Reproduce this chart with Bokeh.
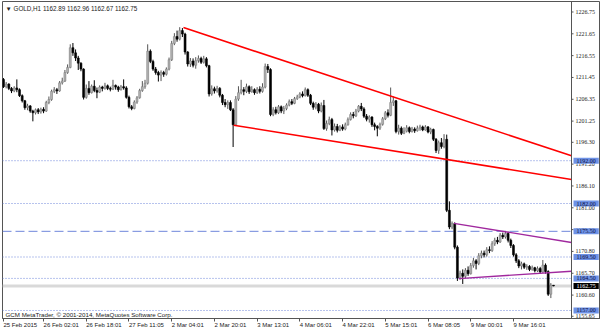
from bokeh.plotting import figure
from bokeh.models import Range1d, FixedTicker, Span, Label, ColumnDataSource
from bokeh.embed import file_html
from bokeh.resources import INLINE

symbol = "GOLD,H1"
first_open = 1211.0
closes = [
    1209.3, 1209.9, 1208.9, 1208.3, 1209.0, 1208.6, 1207.2, 1206.0, 1204.4, 1204.8,
    1203.6, 1203.2, 1203.9, 1203.4, 1204.0, 1203.6, 1205.6, 1206.3, 1208.2, 1208.6,
    1208.3, 1210.2, 1210.6, 1212.6, 1213.8, 1218.4, 1217.2, 1216.0, 1214.8, 1213.4,
    1206.8, 1208.9, 1207.9, 1209.4, 1208.4, 1208.0, 1209.2, 1208.9, 1209.5, 1208.9,
    1208.7, 1209.6, 1209.2, 1208.6, 1209.3, 1209.0, 1206.8, 1204.6, 1204.2, 1205.7,
    1206.7, 1208.4, 1209.3, 1210.1, 1217.6, 1215.2, 1213.4, 1212.6, 1212.0, 1212.6,
    1212.2, 1213.4, 1215.6, 1219.4, 1221.0, 1220.4, 1222.4, 1221.6, 1217.4, 1214.6,
    1215.3, 1214.3, 1215.4, 1215.9, 1215.0, 1215.8, 1214.2, 1207.6, 1208.8, 1208.3,
    1208.9, 1207.3, 1205.6, 1205.1, 1205.6, 1203.9, 1200.4, 1206.4, 1207.9, 1208.6,
    1208.2, 1209.3, 1208.1, 1208.6, 1207.9, 1208.7, 1208.2, 1209.2, 1214.0, 1213.3,
    1202.8, 1203.9, 1203.2, 1204.6, 1203.6, 1204.2, 1205.0, 1205.8, 1205.4, 1206.5,
    1206.9, 1207.6, 1207.2, 1208.6, 1207.3, 1205.4, 1204.5, 1205.2, 1203.6, 1204.9,
    1199.5, 1200.7, 1201.6, 1199.2, 1200.0, 1199.1, 1199.9, 1199.4, 1200.4, 1201.6,
    1202.8, 1202.5, 1203.6, 1204.7, 1204.1, 1202.4, 1201.7, 1202.2, 1200.4, 1200.0,
    1199.6, 1200.5, 1201.8, 1203.2, 1202.6, 1205.6, 1206.0, 1198.8, 1199.6, 1198.4,
    1198.9, 1199.7, 1198.8, 1199.4, 1199.0, 1199.6, 1199.9, 1199.2, 1199.9, 1198.7,
    1199.3, 1197.0, 1194.4, 1196.2, 1195.3, 1197.0, 1180.4, 1176.5, 1177.3, 1171.8,
    1164.6, 1165.7, 1165.0, 1166.4, 1165.6, 1167.5, 1168.6, 1168.0, 1169.8, 1170.4,
    1170.0, 1171.2, 1171.0, 1172.6, 1173.4, 1173.0, 1174.6, 1174.2, 1175.0, 1173.4,
    1172.2, 1170.0, 1168.6, 1167.4, 1167.9, 1167.1, 1167.3, 1166.6, 1167.0, 1166.3,
    1166.8, 1166.0, 1167.6, 1166.1, 1160.8, 1162.89, 1162.75,
]
highs = [
    1211.3, 1210.4, 1210.1, 1209.2, 1209.4, 1211.0, 1208.9, 1207.5, 1206.2, 1205.3,
    1205.0, 1203.9, 1204.2, 1204.3, 1204.4, 1204.5, 1206.0, 1207.0, 1208.6, 1209.2,
    1209.0, 1210.6, 1211.4, 1213.2, 1214.5, 1219.2, 1219.5, 1218.0, 1216.5, 1215.0,
    1213.6, 1209.8, 1210.6, 1209.8, 1210.8, 1209.1, 1209.6, 1209.5, 1210.2, 1209.8,
    1209.3, 1210.9, 1209.8, 1209.5, 1209.7, 1211.0, 1209.4, 1207.2, 1205.0, 1206.1,
    1207.1, 1208.8, 1210.6, 1210.9, 1219.2, 1218.0, 1215.6, 1213.9, 1213.0, 1213.1,
    1213.0, 1213.8, 1216.1, 1220.0, 1221.8, 1222.4, 1223.2, 1223.0, 1221.9, 1217.6,
    1216.0, 1215.9, 1216.2, 1216.6, 1216.3, 1216.5, 1216.2, 1214.4, 1209.6, 1209.3,
    1209.5, 1209.2, 1207.6, 1206.4, 1206.1, 1206.1, 1204.3, 1207.1, 1209.4, 1210.9,
    1209.2, 1210.0, 1209.6, 1209.4, 1208.9, 1209.2, 1209.4, 1210.1, 1214.7, 1214.6,
    1213.6, 1204.5, 1204.6, 1205.0, 1204.9, 1204.8, 1205.4, 1206.3, 1206.4, 1206.9,
    1207.4, 1208.0, 1208.2, 1209.1, 1208.9, 1207.6, 1205.8, 1205.7, 1205.5, 1205.6,
    1206.2, 1201.4, 1202.3, 1202.0, 1200.7, 1200.6, 1200.3, 1200.5, 1200.9, 1202.1,
    1203.3, 1203.4, 1204.1, 1205.0, 1205.5, 1204.5, 1202.9, 1202.6, 1202.4, 1200.9,
    1200.3, 1200.9, 1202.2, 1203.6, 1204.0, 1209.1, 1207.0, 1206.2, 1200.4, 1200.0,
    1199.8, 1200.3, 1200.0, 1199.9, 1199.8, 1200.2, 1200.4, 1200.2, 1200.3, 1200.1,
    1199.7, 1199.5, 1197.3, 1196.7, 1197.3, 1198.2, 1198.1, 1182.5, 1177.8, 1177.6,
    1172.2, 1166.3, 1166.6, 1166.9, 1167.3, 1168.1, 1169.3, 1169.0, 1170.4, 1171.0,
    1171.0, 1171.8, 1172.0, 1173.2, 1174.0, 1174.2, 1175.1, 1175.2, 1175.6, 1175.4,
    1173.8, 1172.5, 1170.4, 1169.0, 1168.4, 1168.2, 1167.8, 1167.6, 1167.5, 1167.2,
    1167.3, 1167.2, 1168.8, 1168.0, 1166.4, 1163.4, 1162.96,
]
lows = [
    1209.0, 1208.9, 1208.5, 1207.8, 1208.0, 1208.0, 1206.9, 1205.6, 1203.9, 1203.8,
    1203.2, 1201.2, 1202.8, 1202.9, 1203.0, 1203.1, 1203.4, 1205.2, 1206.0, 1207.8,
    1207.6, 1208.1, 1209.8, 1210.4, 1212.3, 1213.6, 1216.5, 1215.3, 1213.2, 1212.9,
    1206.3, 1206.5, 1207.4, 1207.7, 1208.0, 1206.6, 1207.8, 1208.2, 1208.6, 1208.5,
    1208.2, 1208.5, 1208.6, 1208.1, 1208.4, 1208.6, 1206.5, 1204.2, 1203.8, 1204.0,
    1205.3, 1206.5, 1208.1, 1208.8, 1209.8, 1214.8, 1213.0, 1212.1, 1210.5, 1210.6,
    1211.6, 1211.9, 1213.1, 1215.3, 1219.0, 1219.8, 1220.1, 1220.9, 1216.8, 1214.0,
    1213.9, 1213.8, 1213.5, 1214.9, 1214.6, 1214.7, 1213.8, 1207.0, 1207.2, 1207.7,
    1207.9, 1206.8, 1205.0, 1204.5, 1204.1, 1203.6, 1195.2, 1200.2, 1206.0, 1207.5,
    1207.3, 1207.8, 1207.6, 1207.9, 1207.4, 1207.6, 1207.7, 1207.9, 1208.9, 1212.5,
    1202.4, 1202.4, 1202.8, 1202.9, 1203.1, 1202.9, 1203.8, 1204.7, 1205.0, 1205.2,
    1206.2, 1206.6, 1206.8, 1207.0, 1206.9, 1205.0, 1203.9, 1204.0, 1203.1, 1203.3,
    1199.2, 1199.0, 1200.3, 1197.9, 1198.8, 1198.6, 1198.9, 1199.0, 1199.1, 1200.2,
    1201.4, 1201.9, 1202.2, 1203.3, 1203.6, 1202.0, 1201.2, 1200.9, 1199.9, 1199.1,
    1197.7, 1199.2, 1200.2, 1201.5, 1202.1, 1202.4, 1204.8, 1198.4, 1198.1, 1198.0,
    1198.2, 1198.6, 1198.4, 1198.6, 1198.5, 1198.8, 1199.0, 1198.9, 1199.0, 1198.4,
    1198.2, 1196.6, 1193.8, 1193.6, 1194.8, 1194.9, 1180.0, 1176.0, 1176.0, 1171.3,
    1163.9, 1164.2, 1163.2, 1164.6, 1165.1, 1165.4, 1167.0, 1166.6, 1167.6, 1169.2,
    1169.4, 1169.6, 1170.4, 1170.7, 1172.1, 1172.5, 1172.8, 1173.7, 1173.8, 1172.9,
    1171.6, 1169.6, 1168.1, 1166.9, 1166.6, 1166.7, 1166.5, 1166.2, 1166.3, 1165.9,
    1166.0, 1165.6, 1165.8, 1165.6, 1160.4, 1159.9, 1162.67,
]
opens = [first_open] + closes[:-1]
bars = list(range(len(closes)))

time_tick_bars = [0, 15, 31, 47, 63, 79, 95, 111, 127, 143, 159, 175, 191]
time_tick_labels = ["25 Feb 2015", "26 Feb 02:01", "26 Feb 18:01", "27 Feb 11:05", "2 Mar 04:01",
                    "2 Mar 20:01", "3 Mar 13:01", "4 Mar 06:01", "4 Mar 22:01", "5 Mar 15:01",
                    "6 Mar 08:05", "9 Mar 00:01", "9 Mar 16:01"]
price_ticks = [1226.75, 1221.65, 1216.55, 1211.45, 1206.35, 1201.25, 1196.30, 1191.20,
               1186.10, 1181.00, 1175.90, 1170.80, 1165.70, 1160.60, 1155.65]
level_prices = [1192.00, 1182.00, 1175.50, 1169.50, 1164.50, 1157.00]
dashed_levels = [1175.50]

red_upper_t, red_upper_p = [67.4, 145.0], [1223.1, 1207.1]
red_lower_t, red_lower_p = [86.2, 166.0], [1200.3, 1192.3]
purple_upper_t, purple_upper_p = [168.7, 188.0], [1177.35, 1175.4]
purple_lower_t, purple_lower_p = [170.5, 200.0], [1164.45, 1165.66]

BAR_PX = 2.67
X0 = -0.375                    # left edge of chart
X1 = X0 + 569 / BAR_PX          # chart right edge (price scale line)
XR = X0 + 598 / BAR_PX          # right edge of canvas area
Y0, Y1 = 1155.13, 1229.2
FONT = "Liberation Sans"
AX = "#555555"
TXT = "#222222"
LINE_BLUE = "#6F86DB"
LABEL_BLUE = "#6E92E6"

p = figure(width=600, height=333, x_range=Range1d(X0, XR), y_range=Range1d(Y0, Y1),
           toolbar_location=None, output_backend="svg", y_axis_location=None,
           min_border_left=2, min_border_top=1, min_border_right=0, min_border_bottom=12,
           background_fill_color="white", border_fill_color="white",
           outline_line_color=AX)
p.grid.visible = False

xa = p.xaxis[0]
xa.ticker = FixedTicker(ticks=time_tick_bars)
xa.major_label_overrides = {b: lab for b, lab in zip(time_tick_bars, time_tick_labels)}
xa.major_label_orientation = -0.0001   # tiny negative angle -> left-aligned labels at ticks
xa.major_label_text_font = FONT
xa.major_label_text_font_size = "6px"
xa.major_label_text_color = TXT
xa.major_label_standoff = 3
xa.major_tick_out = 3
xa.major_tick_in = 0
xa.minor_tick_out = 0
xa.minor_tick_in = 0
xa.axis_line_color = AX
xa.major_tick_line_color = AX

# price scale line, ticks and labels
p.add_layout(Span(location=X1, dimension="height", line_color=AX, line_width=1))
p.ray(x=X1, y=price_ticks, length=2, length_units="screen", angle=0, line_color=AX)
p.text(x=X1, y=price_ticks, text=[f"{t:.2f}" for t in price_ticks], x_offset=4,
       text_baseline="middle", text_align="left", text_font=FONT, text_font_size="6px",
       text_color=TXT)

# bid line
p.segment(x0=X0, y0=closes[-1], x1=X1, y1=closes[-1], line_color="#D9D9D9", line_width=3)

# horizontal levels
for lvl in level_prices:
    dash = "9 4" if lvl in dashed_levels else "1 2"
    p.segment(x0=X0, y0=lvl, x1=X1, y1=lvl, line_color=LINE_BLUE, line_width=1, line_dash=dash)

# candles
bull = [i for i in bars if closes[i] >= opens[i]]
bear = [i for i in bars if closes[i] < opens[i]]

def src(idx):
    return ColumnDataSource(dict(
        x=[bars[i] for i in idx],
        h=[highs[i] for i in idx], l=[lows[i] for i in idx],
        top=[max(opens[i], closes[i]) for i in idx],
        bot=[min(opens[i], closes[i]) for i in idx]))

sb, sr = src(bull), src(bear)
p.segment(x0="x", y0="l", x1="x", y1="h", source=sb, line_color="#555555", line_width=1)
p.segment(x0="x", y0="l", x1="x", y1="h", source=sr, line_color="#000000", line_width=1)
p.vbar(x="x", top="top", bottom="bot", width=0.72, source=sb,
       fill_color="#B4B4B4", line_color="#808080", line_width=0.6)
p.vbar(x="x", top="top", bottom="bot", width=0.72, source=sr,
       fill_color="#000000", line_color="#000000", line_width=0.6)

# trend lines (rays extended to the chart's right edge)
def ray(t, pr, color, w):
    slope = (pr[1] - pr[0]) / (t[1] - t[0])
    ye = pr[0] + slope * (X1 - t[0])
    p.line([t[0], X1], [pr[0], ye], line_color=color, line_width=w)

ray(red_upper_t, red_upper_p, "#FF0000", 1.6)
ray(red_lower_t, red_lower_p, "#FF0000", 1.6)
ray(purple_upper_t, purple_upper_p, "#A0289E", 1.4)
ray(purple_lower_t, purple_lower_p, "#A0289E", 1.4)

# level labels on the price scale
p.text(x=X1, y=level_prices, text=[f"{v:.2f}" for v in level_prices], x_offset=2,
       text_baseline="middle", text_align="left", text_font=FONT, text_font_size="6px",
       text_color="#0B0B3B", background_fill_color=LABEL_BLUE, padding=(3, 1))
p.text(x=X1, y=[closes[-1]], text=[f"{closes[-1]:.2f}"], x_offset=2,
       text_baseline="middle", text_align="left", text_font=FONT, text_font_size="6px",
       text_color="white", background_fill_color="black", padding=(3, 1))

# header and copyright
header = f"\u25BC {symbol}  {opens[-1]:.2f} {highs[-1]:.2f} {lows[-1]:.2f} {closes[-1]:.2f}"
p.add_layout(Label(x=X0, y=Y1, x_offset=3, y_offset=-3, text=header, text_baseline="top",
                   text_font=FONT, text_font_size="6.3px", text_color=TXT))
p.add_layout(Label(x=X0, y=Y0, x_offset=3, y_offset=1, text_baseline="bottom",
                   text="GCM MetaTrader, \u00A9 2001-2014, MetaQuotes Software Corp.",
                   text_font=FONT, text_font_size="6.2px", text_color=TXT))

open("out.html", "w").write(file_html(p, INLINE))
